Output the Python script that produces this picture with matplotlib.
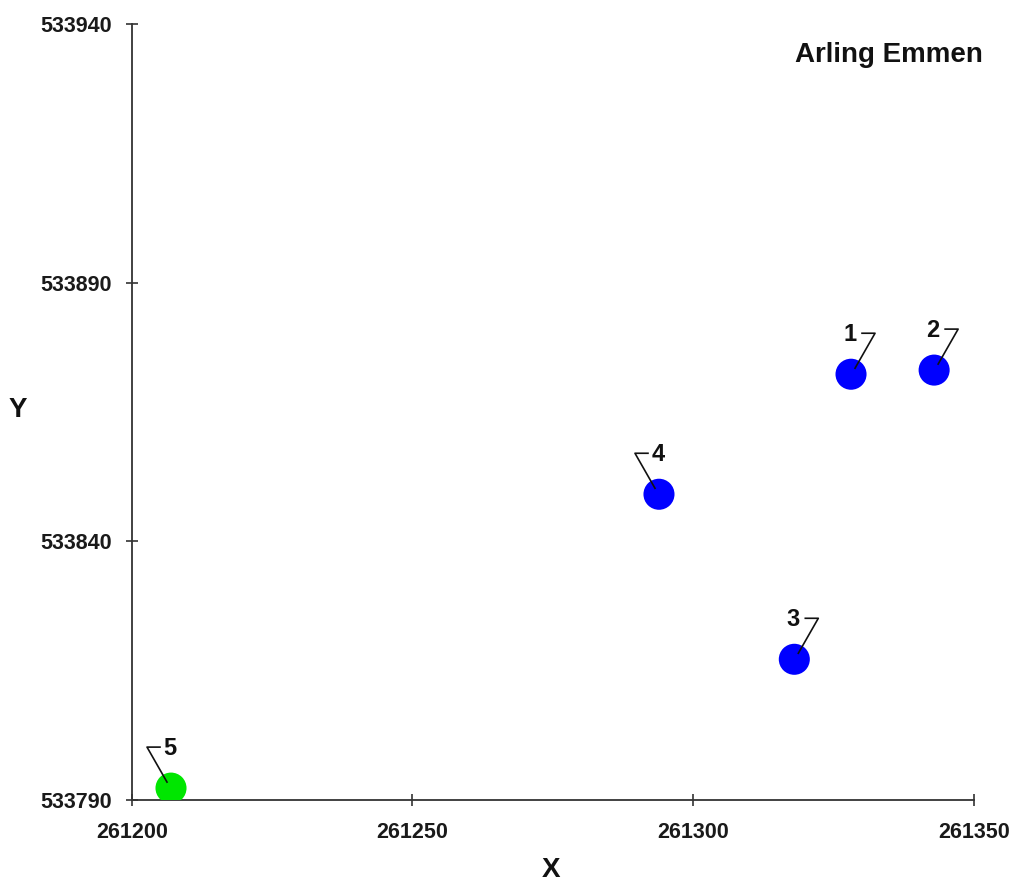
import matplotlib
matplotlib.use("Agg")
import matplotlib.pyplot as plt
import matplotlib.transforms as mtransforms
from matplotlib.lines import Line2D

# ---- data ----
labels = ["1", "2", "3", "4", "5"]
x_vals = [261328.1, 261342.9, 261318.0, 261293.9, 261207.0]
y_vals = [533872.3, 533873.1, 533817.2, 533849.1, 533792.3]
colors = ["#0000ff", "#0000ff", "#0000ff", "#0000ff", "#00e600"]
leader_side = [1, 1, 1, -1, -1]   # +1: leader to the right, -1: to the left
x_ticks = [261200, 261250, 261300, 261350]
y_ticks = [533790, 533840, 533890, 533940]
title = "Arling Emmen"

plt.rcParams['font.family'] = ['Liberation Sans', 'DejaVu Sans']

DPI = 100
fig = plt.figure(figsize=(10.12, 8.84), dpi=DPI)
W, H = 1012, 884
ax = fig.add_axes([131.7 / W, 1 - 800 / H, (974 - 131.7) / W, (800 - 24) / H])

ax.set_xlim(x_ticks[0], x_ticks[-1])
ax.set_ylim(y_ticks[0], y_ticks[-1])
ax.set_xticks(x_ticks)
ax.set_yticks(y_ticks)
ax.set_xticklabels([str(t) for t in x_ticks])
ax.set_yticklabels([str(t) for t in y_ticks])

for s in ["top", "right"]:
    ax.spines[s].set_visible(False)
for s in ["left", "bottom"]:
    ax.spines[s].set_color("#333333")
    ax.spines[s].set_linewidth(1.3)

ax.tick_params(axis="both", direction="inout", length=8.5, width=1.2, color="#333333",
               labelsize=15.5, labelcolor="#1a1a1a")
ax.tick_params(axis="x", pad=11.5)
ax.tick_params(axis="y", pad=10)
for lab in ax.get_xticklabels() + ax.get_yticklabels():
    lab.set_fontweight("bold")

ax.scatter(x_vals, y_vals, s=500, c=colors, edgecolors="none", zorder=3)

# labels with leader lines (offsets in pixels)
for lab, xv, yv, side in zip(labels, x_vals, y_vals, leader_side):
    px, py = ax.transData.transform((xv, yv))
    tr = mtransforms.Affine2D().translate(px, py)
    xs = [side * 11, side * 24, side * 4]
    ys = [41, 41, 6]
    ln = Line2D(xs, ys, transform=tr, color="#111111", lw=1.2, zorder=4, clip_on=False)
    ax.add_line(ln)
    ax.annotate(lab, (xv, yv), xytext=(-1, 40), textcoords="offset pixels",
                ha="center", va="center", fontsize=17, fontweight="bold",
                color="#111111", zorder=5)

fig.text(983 / W, 1 - 55 / H, title, ha="right", va="center",
         fontsize=20, fontweight="bold", color="#111111")
fig.text(551 / W, 1 - 870 / H, "X", ha="center", va="center",
         fontsize=20, fontweight="bold", color="#111111")
fig.text(18 / W, 1 - 410 / H, "Y", ha="center", va="center",
         fontsize=20, fontweight="bold", color="#111111")

fig.savefig("out.png", dpi=DPI)
